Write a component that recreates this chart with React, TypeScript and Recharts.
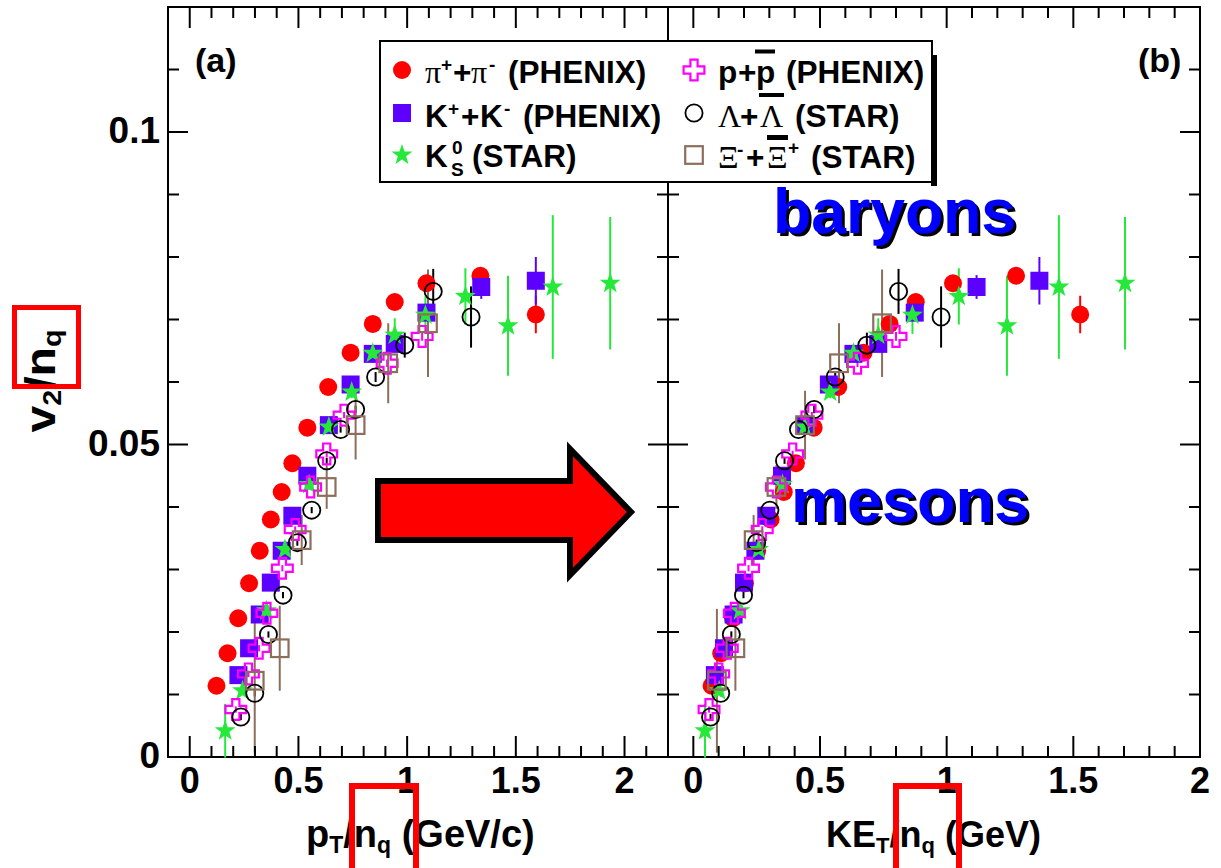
import React from 'react';
import { ScatterChart, Scatter, XAxis, YAxis, ErrorBar, ReferenceArea, Legend } from 'recharts';

const SANS = '"Liberation Sans", Arial, Helvetica, sans-serif';
const SERIF = '"Liberation Serif", "Times New Roman", serif';

const RED = '#ff0000';
const PURPLE = '#5c00ff';
const GREEN = '#26e83a';
const MAGENTA = '#ff00ff';
const BLACK = '#000000';
const BROWN = '#8c6e5c';

// pi+ + pi- (PHENIX)
const PI_PT = [0.123, 0.174, 0.223, 0.273, 0.322, 0.373, 0.423, 0.472, 0.541, 0.637, 0.74, 0.842, 0.943, 1.089, 1.337, 1.592];
const PI_KE = [0.072, 0.11, 0.157, 0.204, 0.252, 0.305, 0.357, 0.405, 0.475, 0.572, 0.672, 0.775, 0.878, 1.025, 1.274, 1.527];
const PI_V2 = [0.0114, 0.0166, 0.0222, 0.0278, 0.033, 0.038, 0.0424, 0.047, 0.0527, 0.0592, 0.0647, 0.0693, 0.0728, 0.0758, 0.077, 0.0708];
const PI_ERR = [0.0003, 0.0003, 0.0003, 0.0003, 0.0003, 0.0003, 0.0003, 0.0003, 0.0004, 0.0004, 0.0005, 0.0005, 0.0006, 0.0008, 0.0012, 0.003];

// K+ + K- (PHENIX)
const KA_PT = [0.224, 0.273, 0.322, 0.373, 0.423, 0.472, 0.541, 0.64, 0.74, 0.842, 0.943, 1.089, 1.341, 1.592];
const KA_KE = [0.085, 0.121, 0.159, 0.2, 0.245, 0.288, 0.35, 0.44, 0.535, 0.632, 0.73, 0.874, 1.118, 1.366];
const KA_V2 = [0.0131, 0.0174, 0.0228, 0.0279, 0.033, 0.0386, 0.045, 0.0531, 0.0596, 0.0645, 0.0661, 0.0711, 0.0752, 0.0762];
const KA_ERR = [0.0004, 0.0004, 0.0004, 0.0004, 0.0004, 0.0004, 0.0005, 0.0005, 0.0006, 0.0006, 0.0007, 0.0009, 0.0019, 0.0038];

// K0s (STAR)
const K0_PT = [0.163, 0.243, 0.353, 0.438, 0.549, 0.64, 0.745, 0.842, 0.943, 1.084, 1.268, 1.464, 1.67, 1.934];
const K0_KE = [0.046, 0.102, 0.184, 0.258, 0.352, 0.44, 0.54, 0.632, 0.73, 0.865, 1.048, 1.238, 1.443, 1.704];
const K0_V2 = [0.0042, 0.0106, 0.0234, 0.0332, 0.0436, 0.0528, 0.0584, 0.0646, 0.0675, 0.0707, 0.0737, 0.069, 0.0752, 0.0758];
const K0_ERR = [0.0043, 0.0006, 0.0006, 0.0007, 0.0008, 0.0009, 0.001, 0.0012, 0.0027, 0.003, 0.0045, 0.008, 0.0115, 0.0106];

// p + pbar (PHENIX)
const P_PT = [0.212, 0.27, 0.319, 0.355, 0.426, 0.485, 0.556, 0.63, 0.71, 0.908, 1.069];
const P_KE = [0.062, 0.1, 0.134, 0.162, 0.218, 0.272, 0.328, 0.392, 0.468, 0.648, 0.8];
const P_V2 = [0.0076, 0.0133, 0.0174, 0.023, 0.0302, 0.0364, 0.0432, 0.0485, 0.0547, 0.063, 0.0673];
const P_ERR = [0.0005, 0.0005, 0.0005, 0.0005, 0.0005, 0.0005, 0.0005, 0.0005, 0.0005, 0.0006, 0.0007];

// Lambda + Lambdabar (STAR)
const L_PT = [0.235, 0.299, 0.362, 0.429, 0.495, 0.561, 0.63, 0.694, 0.763, 0.855, 0.989, 1.12, 1.294];
const L_KE = [0.068, 0.108, 0.15, 0.198, 0.25, 0.302, 0.36, 0.415, 0.477, 0.56, 0.685, 0.81, 0.978];
const L_V2 = [0.0064, 0.0102, 0.0196, 0.0259, 0.0343, 0.0395, 0.0474, 0.0524, 0.0556, 0.0608, 0.0659, 0.0745, 0.0704];
const L_ERR = [0.0005, 0.0005, 0.0005, 0.0005, 0.0005, 0.0005, 0.0005, 0.0005, 0.0006, 0.0008, 0.002, 0.0036, 0.0049];

// Xi- + Xibar+ (STAR)
const X_PT = [0.299, 0.414, 0.515, 0.63, 0.763, 0.913, 1.096];
const X_KE = [0.093, 0.166, 0.238, 0.328, 0.441, 0.575, 0.745];
const X_V2 = [0.0122, 0.0174, 0.0347, 0.0432, 0.0531, 0.063, 0.0694];
const X_ERR = [0.0115, 0.0068, 0.004, 0.0035, 0.0055, 0.0064, 0.0086];

const X_TICKS_A = [0, 0.1, 0.2, 0.3, 0.4, 0.5, 0.6, 0.7, 0.8, 0.9, 1, 1.1, 1.2, 1.3, 1.4, 1.5, 1.6, 1.7, 1.8, 1.9, 2, 2.1];
const X_TICKS_B = [0, 0.1, 0.2, 0.3, 0.4, 0.5, 0.6, 0.7, 0.8, 0.9, 1, 1.1, 1.2, 1.3, 1.4, 1.5, 1.6, 1.7, 1.8, 1.9, 2];
const Y_TICKS = [0, 0.01, 0.02, 0.03, 0.04, 0.05, 0.06, 0.07, 0.08, 0.09, 0.1, 0.11];

const PLOT_H = 750;

const mk = (xs: number[], ys: number[], es: number[]) => xs.map((x, i) => ({ x, y: ys[i], err: es[i] }));

const starPts = (cx: number, cy: number, R: number, r: number) => {
  const pts: string[] = [];
  for (let i = 0; i < 10; i++) {
    const ang = -Math.PI / 2 + (i * Math.PI) / 5;
    const rad = i % 2 === 0 ? R : r;
    pts.push(`${cx + rad * Math.cos(ang)},${cy + rad * Math.sin(ang)}`);
  }
  return pts.join(' ');
};

const crossPath = (cx: number, cy: number, a: number, b: number) =>
  `M${cx - a},${cy - b}H${cx + a}V${cy - a}H${cx + b}V${cy + a}H${cx + a}V${cy + b}H${cx - a}V${cy + a}H${cx - b}V${cy - a}H${cx - a}Z`;

const RedDot = ({ cx, cy }: any) => <circle cx={cx} cy={cy} r={9} fill={RED} />;
const PurpleSquare = ({ cx, cy }: any) => <rect x={cx - 9} y={cy - 9} width={18} height={18} fill={PURPLE} />;
const GreenStar = ({ cx, cy }: any) => <polygon points={starPts(cx, cy, 11, 4.4)} fill={GREEN} />;
const OpenCross = ({ cx, cy }: any) => (
  <path d={crossPath(cx, cy, 3.6, 10.4)} fill="none" stroke={MAGENTA} strokeWidth={2.2} />
);
const OpenCircle = ({ cx, cy }: any) => <circle cx={cx} cy={cy} r={8.6} fill="none" stroke={BLACK} strokeWidth={1.8} />;
const OpenSquare = ({ cx, cy }: any) => (
  <rect x={cx - 8.8} y={cy - 8.8} width={17.6} height={17.6} fill="none" stroke={BROWN} strokeWidth={2.2} />
);

const SERIES = [
  { key: 'pi', color: RED, shape: RedDot, a: mk(PI_PT, PI_V2, PI_ERR), b: mk(PI_KE, PI_V2, PI_ERR) },
  { key: 'K', color: PURPLE, shape: PurpleSquare, a: mk(KA_PT, KA_V2, KA_ERR), b: mk(KA_KE, KA_V2, KA_ERR) },
  { key: 'K0s', color: GREEN, shape: GreenStar, a: mk(K0_PT, K0_V2, K0_ERR), b: mk(K0_KE, K0_V2, K0_ERR) },
  { key: 'p', color: MAGENTA, shape: OpenCross, a: mk(P_PT, P_V2, P_ERR), b: mk(P_KE, P_V2, P_ERR) },
  { key: 'Lambda', color: BLACK, shape: OpenCircle, a: mk(L_PT, L_V2, L_ERR), b: mk(L_KE, L_V2, L_ERR) },
  { key: 'Xi', color: BROWN, shape: OpenSquare, a: mk(X_PT, X_V2, X_ERR), b: mk(X_KE, X_V2, X_ERR) },
];

const isMult = (v: number, step: number) => Math.abs(v / step - Math.round(v / step)) < 1e-6;

// ticks point inwards on all four sides
const xTick = (props: any) => {
  const { x, y, payload } = props;
  const v = payload.value;
  const major = isMult(v, 0.5);
  const len = major ? 21 : 11;
  const top = y - PLOT_H;
  return (
    <g>
      <line x1={x} y1={y} x2={x} y2={y - len} stroke="#000" strokeWidth={2} />
      <line x1={x} y1={top} x2={x} y2={top + len} stroke="#000" strokeWidth={2} />
      {major && (
        <text x={x} y={y + 36} textAnchor="middle" fontSize={36} fontWeight="bold" fontFamily={SANS} fill="#000">
          {String(v)}
        </text>
      )}
    </g>
  );
};

const yTick = (plotW: number, labels: boolean) => (props: any) => {
  const { x, y, payload } = props;
  const v = payload.value;
  const major = isMult(v, 0.05);
  const len = major ? 20 : 11;
  return (
    <g>
      <line x1={x} y1={y} x2={x + len} y2={y} stroke="#000" strokeWidth={2} />
      <line x1={x + plotW} y1={y} x2={x + plotW - len} y2={y} stroke="#000" strokeWidth={2} />
      {labels && major && (
        <text x={x - 8} y={y + 11} textAnchor="end" fontSize={37} fontWeight="bold" fontFamily={SANS} fill="#000">
          {String(v)}
        </text>
      )}
    </g>
  );
};

const LegendBox = () => {
  const t = { fontFamily: SANS, fontWeight: 'bold' as const, fontSize: 31.5, fill: '#000' };
  const g = { fontFamily: SERIF, fontWeight: 'normal' as const, fontSize: 32 };
  const sup = { fontSize: 19 };
  return (
    <svg width={562} height={150} style={{ display: 'block', overflow: 'visible' }}>
      <rect x={552} y={15} width={6} height={131} fill="#000" />
      <rect x={1} y={1} width={552} height={141} fill="#fff" stroke="#000" strokeWidth={2} />
      <RedDot cx={23} cy={30} />
      <PurpleSquare cx={23} cy={73} />
      <GreenStar cx={23} cy={115} />
      <OpenCross cx={315} cy={30} />
      <OpenCircle cx={315} cy={73} />
      <OpenSquare cx={315} cy={115} />

      <text y={43} {...t}>
        <tspan x={46} {...g}>π</tspan>
        <tspan x={62} dy={-12} {...sup}>+</tspan>
        <tspan x={74} dy={12}>+</tspan>
        <tspan x={92} {...g}>π</tspan>
        <tspan x={110} dy={-12} {...sup}>-</tspan>
        <tspan x={129} dy={12}>(PHENIX)</tspan>
      </text>
      <text y={87} {...t}>
        <tspan x={46}>K</tspan>
        <tspan x={69} dy={-12} {...sup}>+</tspan>
        <tspan x={82} dy={12}>+</tspan>
        <tspan x={101}>K</tspan>
        <tspan x={125} dy={-12} {...sup}>-</tspan>
        <tspan x={144} dy={12}>(PHENIX)</tspan>
      </text>
      <text y={127} {...t}>
        <tspan x={46}>K</tspan>
        <tspan x={73} dy={-13} {...sup}>0</tspan>
        <tspan x={72} dy={22} {...sup}>S</tspan>
        <tspan x={93} dy={-9}>(STAR)</tspan>
      </text>

      <text y={43} {...t}>
        <tspan x={339}>p</tspan>
        <tspan x={359}>+</tspan>
        <tspan x={377}>p</tspan>
        <tspan x={407}>(PHENIX)</tspan>
      </text>
      <rect x={376} y={9.5} width={20} height={4} fill="#000" />
      <text y={87} {...t}>
        <tspan x={339} {...g}>Λ</tspan>
        <tspan x={361}>+</tspan>
        <tspan x={381} {...g}>Λ</tspan>
        <tspan x={416}>(STAR)</tspan>
      </text>
      <rect x={380} y={53} width={25} height={4} fill="#000" />
      <text y={128} {...t}>
        <tspan x={339} {...g}>Ξ</tspan>
        <tspan x={358} dy={-12} {...sup}>-</tspan>
        <tspan x={367} dy={12}>+</tspan>
        <tspan x={388} {...g}>Ξ</tspan>
        <tspan x={409} dy={-14} {...sup}>+</tspan>
        <tspan x={432} dy={14}>(STAR)</tspan>
      </text>
      <rect x={388} y={95} width={21} height={5} fill="#000" />
    </svg>
  );
};

function Panel({ side }: { side: 'a' | 'b' }) {
  const isA = side === 'a';
  const width = isA ? 690 : 621;
  // axes take 1px each (an axis of size 0 is not drawn)
  const margin = isA
    ? { top: 7, right: 22, bottom: 110, left: 167 }
    : { top: 7, right: 21, bottom: 110, left: 67 };
  const plotW = width - margin.left - 1 - margin.right;
  const xMax = isA ? 2.2 : 2.0;
  return (
    <ScatterChart width={width} height={868} margin={margin}>
      <XAxis
        type="number"
        dataKey="x"
        domain={[-0.1, xMax]}
        ticks={isA ? X_TICKS_A : X_TICKS_B}
        interval={0}
        height={1}
        tickSize={0}
        tickMargin={0}
        axisLine={false}
        tickLine={false}
        tick={xTick}
        allowDataOverflow
      />
      <YAxis
        type="number"
        dataKey="y"
        domain={[0, 0.12]}
        ticks={Y_TICKS}
        interval={0}
        width={1}
        tickSize={0}
        tickMargin={0}
        axisLine={false}
        tickLine={false}
        tick={yTick(plotW, isA)}
        allowDataOverflow
      />
      <ReferenceArea x1={-0.1} x2={xMax} y1={0} y2={0.12} fill="none" fillOpacity={0} stroke="#000" strokeWidth={2} />
      {SERIES.map((s) => (
        <Scatter key={s.key} name={s.key} data={isA ? s.a : s.b} shape={s.shape} isAnimationActive={false}>
          <ErrorBar dataKey="err" direction="y" width={0} stroke={s.color} strokeWidth={2} />
        </Scatter>
      ))}
      {isA && (
        <Legend
          layout="horizontal"
          verticalAlign="middle"
          align="center"
          content={() => <LegendBox />}
          wrapperStyle={{ position: 'absolute', left: 379, top: 40, width: 562, height: 150 }}
        />
      )}
    </ScatterChart>
  );
}

export default function App() {
  const title = { fontFamily: SANS, fontWeight: 'bold' as const, fill: '#000' };
  return (
    <div style={{ position: 'absolute', left: 0, top: 0, width: 1221, height: 868, background: '#fff', fontFamily: SANS }}>
      <div style={{ position: 'absolute', left: 600, top: 0 }}>
        <Panel side="b" />
      </div>
      <div style={{ position: 'absolute', left: 0, top: 0 }}>
        <Panel side="a" />
      </div>
      <svg width={1221} height={868} style={{ position: 'absolute', left: 0, top: 0, pointerEvents: 'none' }}>
        <defs>
          <filter id="hardShadow" x="-5%" y="-5%" width="115%" height="130%">
            <feDropShadow dx={3} dy={3} stdDeviation={0} floodColor="#000" floodOpacity={1} />
          </filter>
        </defs>
        <text x={195} y={72} fontSize={34} {...title}>(a)</text>
        <text x={1138} y={72} fontSize={34} {...title}>(b)</text>

        <polygon
          points="378,481 570,481 570,449 631,512 570,575 570,540 378,540"
          fill="#ff0000"
          stroke="#000"
          strokeWidth={6}
          strokeLinejoin="miter"
        />

        <text x={773} y={233} fontSize={63} textLength={243} lengthAdjust="spacingAndGlyphs" {...title} fill="#0000ff" filter="url(#hardShadow)">baryons</text>
        <text x={791} y={522} fontSize={63} textLength={238} lengthAdjust="spacingAndGlyphs" {...title} fill="#0000ff" filter="url(#hardShadow)">mesons</text>

        <text x={306} y={847} fontSize={38} {...title}>
          p<tspan dy={6} fontSize={23}>T</tspan>
          <tspan dy={-6}>/n</tspan>
          <tspan dy={6} fontSize={23}>q</tspan>
          <tspan dy={-6}> (GeV/c)</tspan>
        </text>
        <text x={826} y={847} fontSize={36} {...title}>
          KE<tspan dy={6} fontSize={22}>T</tspan>
          <tspan dy={-6}>/n</tspan>
          <tspan dy={6} fontSize={22}>q</tspan>
          <tspan dy={-6}> (GeV)</tspan>
        </text>
        <text
          transform="translate(55,381) rotate(-90)"
          textAnchor="middle"
          fontSize={42}
          textLength={103}
          lengthAdjust="spacingAndGlyphs"
          {...title}
        >
          v<tspan dy={6} fontSize={25}>2</tspan>
          <tspan dy={-6}>/n</tspan>
          <tspan dy={6} fontSize={25}>q</tspan>
        </text>

        <rect x={14.5} y={307.5} width={64} height={79} fill="none" stroke="#ff0000" strokeWidth={5} />
        <rect x={352} y={786} width={64} height={100} fill="none" stroke="#ff0000" strokeWidth={6} />
        <rect x={896} y={786} width={63} height={100} fill="none" stroke="#ff0000" strokeWidth={6} />
      </svg>
    </div>
  );
}
